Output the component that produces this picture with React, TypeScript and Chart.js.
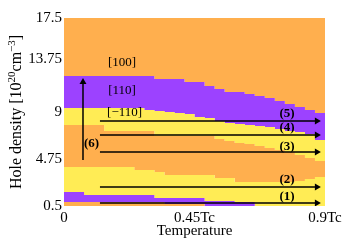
import React, { useEffect, useRef } from "react";
import { Chart, registerables } from "chart.js";
Chart.register(...registerables);

// Temperature grid (units of Tc)
const temperatures = [0, 0.0346, 0.0692, 0.1038, 0.1385, 0.1731, 0.2077, 0.2423, 0.2769, 0.3115, 0.3462, 0.3808, 0.4154, 0.45, 0.4846, 0.5192, 0.5538, 0.5885, 0.6231, 0.6577, 0.6923, 0.7269, 0.7615, 0.7962, 0.8308, 0.8654, 0.9];

// Region boundaries (hole density, 10^20 cm^-3), bottom to top
const bottomOrangeTop = [0.86, 0.86, 0.86, 0.86, 0.86, 0.86, 0.86, 0.86, 0.86, 0.86, 0.68, 0.68, 0.68, 0.68, 0.5, 0.5, 0.5, 0.5, 0.5, 0.5, 0.5, 0.5, 0.5, 0.5, 0.5, 0.5, 0.5];
const lowerPurpleTop = [1.77, 1.77, 1.49, 1.49, 1.49, 1.49, 1.49, 1.49, 1.49, 1.22, 1.22, 1.22, 1.22, 1.22, 0.95, 0.95, 0.95, 0.86, 0.86, 0.5, 0.5, 0.5, 0.5, 0.5, 0.5, 0.5, 0.5];
const lowerYellowTop = [4.03, 4.03, 4.03, 4.03, 4.03, 4.03, 4.03, 3.76, 3.76, 3.57, 3.3, 3.3, 3.3, 3.3, 3.3, 3.03, 3.03, 2.67, 2.67, 2.67, 2.67, 2.67, 2.67, 2.76, 2.94, 3.12, 3.12];
const middleOrangeTop = [7.82, 7.82, 7.82, 7.82, 7.28, 7.28, 7.28, 7.28, 7.28, 6.83, 6.83, 6.83, 6.83, 6.83, 6.83, 6.56, 6.38, 6.2, 6.11, 5.93, 5.74, 5.56, 5.38, 5.11, 4.84, 4.57, 4.57];
const yellowM110Top = [9.36, 9.36, 9.36, 9.36, 9.36, 9.36, 9.36, 9.36, 9.18, 9.09, 9.0, 8.91, 8.82, 8.55, 8.46, 8.19, 8.01, 7.91, 7.82, 7.73, 7.64, 7.46, 7.28, 7.19, 7.01, 6.47, 6.47];
const purple110Top = [12.26, 12.26, 12.26, 12.26, 12.26, 12.26, 12.26, 12.26, 12.26, 11.98, 11.98, 11.98, 11.71, 11.71, 11.35, 11.08, 10.81, 10.81, 10.63, 10.45, 10.27, 9.99, 9.72, 9.45, 9.18, 8.91, 8.91];

const Y_MIN = 0.5;
const Y_MAX = 17.5;
const X_MIN = 0;
const X_MAX = 0.9;

const xTickValues = [0, 0.45, 0.9];
const xTickLabels = ["0", "0.45Tc", "0.9Tc"];
const yTickValues = [0.5, 4.75, 9, 13.75, 17.5];
const yTickLabels = ["0.5", "4.75", "9", "13.75", "17.5"];

// Horizontal arrows (1)-(5)
const arrowY = [0.77, 2.22, 5.38, 6.92, 8.19];
const arrowStartX = 0.124;
const arrowEndX = 0.872;
// Vertical arrow (6)
const vArrowX = 0.0655;
const vArrowFromY = 4.66;
const vArrowToY = 11.71;

const arrowLabels = ["(1)", "(2)", "(3)", "(4)", "(5)", "(6)"];
const arrowLabelX = [0.769, 0.769, 0.769, 0.769, 0.769, 0.095];
const arrowLabelY = [1.31, 2.85, 5.83, 7.55, 8.82, 6.15];

const phaseLabels = ["[100]", "[110]", "[\u2212110]"];
const phaseLabelX = [0.2, 0.2, 0.209];
const phaseLabelY = [13.43, 10.9, 8.95];

const ORANGE = "#FFAF4E";
const PURPLE = "#9C42FF";
const YELLOW = "#FFEC55";
const SERIF = "'Liberation Serif', 'DejaVu Serif', serif";

const annotationPlugin = {
  id: "annotations",
  afterDatasetsDraw(chart: any) {
    const ctx = chart.ctx;
    const xs = chart.scales.x;
    const ys = chart.scales.y;
    ctx.save();
    ctx.fillStyle = "#000";
    ctx.textAlign = "center";
    ctx.textBaseline = "middle";
    ctx.font = `13px ${SERIF}`;
    phaseLabels.forEach((t, i) => {
      ctx.fillText(t, xs.getPixelForValue(phaseLabelX[i]), ys.getPixelForValue(phaseLabelY[i]));
    });
    ctx.font = `bold 13px ${SERIF}`;
    arrowLabels.forEach((t, i) => {
      ctx.fillText(t, xs.getPixelForValue(arrowLabelX[i]), ys.getPixelForValue(arrowLabelY[i]));
    });
    ctx.restore();
  },
  afterDraw(chart: any) {
    // y-axis title with superscripts
    const ctx = chart.ctx;
    const area = chart.chartArea;
    const cy = (area.top + area.bottom) / 2;
    const parts = [
      { t: "Hole density [10", sup: false },
      { t: "20", sup: true },
      { t: "cm", sup: false },
      { t: "\u22123", sup: true },
      { t: "]", sup: false },
    ];
    const mainFont = `16px ${SERIF}`;
    const supFont = `11px ${SERIF}`;
    ctx.save();
    let total = 0;
    const widths = parts.map((p) => {
      ctx.font = p.sup ? supFont : mainFont;
      const w = ctx.measureText(p.t).width;
      total += w;
      return w;
    });
    ctx.translate(20.5, cy);
    ctx.rotate(-Math.PI / 2);
    ctx.fillStyle = "#000";
    ctx.textAlign = "left";
    ctx.textBaseline = "alphabetic";
    let x = -total / 2;
    parts.forEach((p, i) => {
      ctx.font = p.sup ? supFont : mainFont;
      ctx.fillText(p.t, x, p.sup ? -6 : 0);
      x += widths[i];
    });
    ctx.restore();
  },
};

function boundary(values: number[]) {
  return temperatures.map((t, i) => ({ x: t, y: values[i] }));
}

function region(values: number[], color: string) {
  return {
    data: boundary(values),
    borderWidth: 0,
    borderColor: "rgba(0,0,0,0)",
    backgroundColor: color,
    pointRadius: 0,
    stepped: true,
    fill: "-1",
    order: 1,
  };
}

export default function App() {
  const ref = useRef<HTMLCanvasElement>(null);
  useEffect(() => {
    const baseLine = temperatures.map((t) => ({ x: t, y: Y_MIN }));
    const topLine = temperatures.map((t) => ({ x: t, y: Y_MAX }));
    const datasets: any[] = [
      { data: baseLine, borderWidth: 0, pointRadius: 0, fill: false, stepped: true, order: 1 },
      region(bottomOrangeTop, ORANGE),
      region(lowerPurpleTop, PURPLE),
      region(lowerYellowTop, YELLOW),
      region(middleOrangeTop, ORANGE),
      region(yellowM110Top, YELLOW),
      region(purple110Top, PURPLE),
      { data: topLine, borderWidth: 0, borderColor: "rgba(0,0,0,0)", backgroundColor: ORANGE, pointRadius: 0, stepped: true, fill: "-1", order: 1 },
    ];
    arrowY.forEach((y) => {
      datasets.push({
        data: [
          { x: arrowStartX, y },
          { x: arrowEndX, y },
        ],
        borderColor: "#000",
        borderWidth: 1.5,
        pointRadius: [0, 4],
        pointStyle: "triangle",
        pointRotation: 90,
        pointBackgroundColor: "#000",
        pointBorderColor: "#000",
        pointBorderWidth: 0,
        fill: false,
        order: 0,
      });
    });
    datasets.push({
      data: [
        { x: vArrowX, y: vArrowFromY },
        { x: vArrowX, y: vArrowToY },
      ],
      borderColor: "#000",
      borderWidth: 1.5,
      pointRadius: [0, 4],
      pointStyle: "triangle",
      pointRotation: 0,
      pointBackgroundColor: "#000",
      pointBorderColor: "#000",
      pointBorderWidth: 0,
      fill: false,
      order: 0,
    });

    const tickFont = { family: SERIF, size: 15 };
    const chart = new Chart(ref.current!, {
      type: "line",
      data: { datasets },
      options: {
        animation: false,
        responsive: false,
        maintainAspectRatio: false,
        layout: { padding: { top: 18, right: 34, left: 0, bottom: 0 } },
        plugins: { legend: { display: false }, tooltip: { enabled: false } },
        elements: { line: { tension: 0 } },
        scales: {
          x: {
            type: "linear",
            min: X_MIN,
            max: X_MAX,
            grid: { display: false, drawTicks: false },
            border: { display: false },
            afterBuildTicks: (s: any) => {
              s.ticks = xTickValues.map((v) => ({ value: v }));
            },
            afterFit: (s: any) => {
              s.height = 34;
            },
            ticks: {
              autoSkip: false,
              maxRotation: 0,
              padding: 3,
              color: "#000",
              font: tickFont,
              callback: (v: any) => {
                const i = xTickValues.indexOf(Number(v));
                return i >= 0 ? xTickLabels[i] : "";
              },
            },
            title: {
              display: true,
              text: "Temperature",
              color: "#000",
              font: tickFont,
              padding: { top: 0, bottom: 0 },
            },
          },
          y: {
            type: "linear",
            min: Y_MIN,
            max: Y_MAX,
            grid: { display: false, drawTicks: false },
            border: { display: false },
            afterBuildTicks: (s: any) => {
              s.ticks = yTickValues.map((v) => ({ value: v }));
            },
            afterFit: (s: any) => {
              s.width = 64;
            },
            ticks: {
              autoSkip: false,
              padding: 2,
              color: "#000",
              font: tickFont,
              callback: (v: any) => {
                const i = yTickValues.indexOf(Number(v));
                return i >= 0 ? yTickLabels[i] : "";
              },
            },
          },
        },
      },
      plugins: [annotationPlugin],
    } as any);
    return () => chart.destroy();
  }, []);
  return (
    <div style={{ position: "fixed", left: 0, top: 0, width: 359, height: 240, background: "#fff" }}>
      <canvas ref={ref} width={359} height={240} style={{ width: 359, height: 240, display: "block" }} />
    </div>
  );
}
